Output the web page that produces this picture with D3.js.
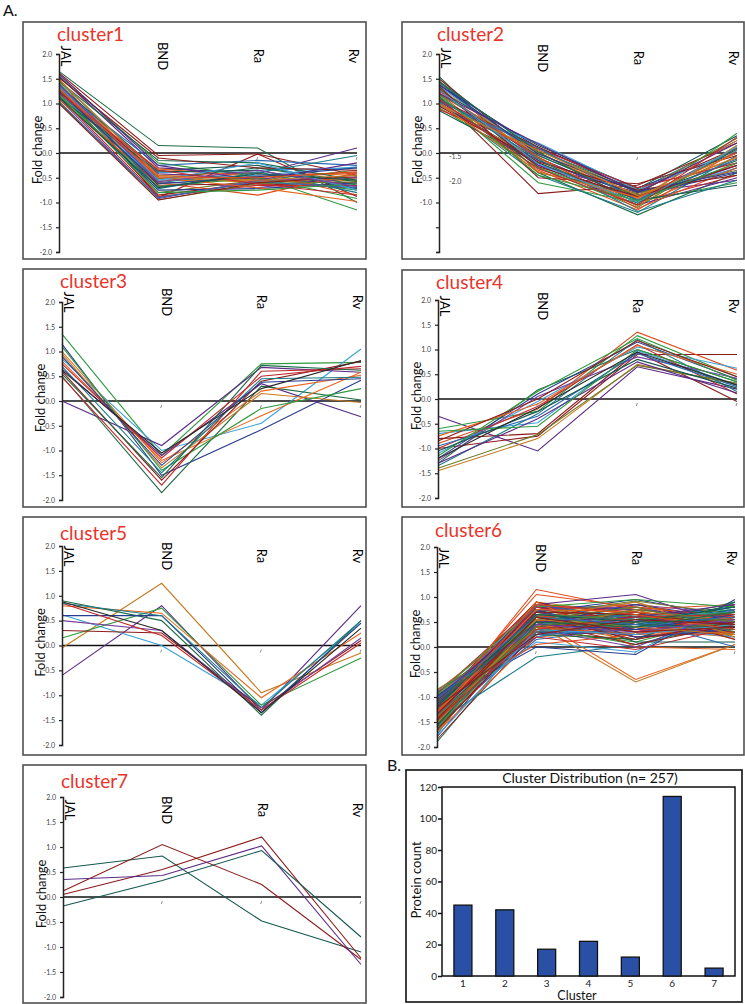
<!DOCTYPE html>
<html><head><meta charset="utf-8">
<script src="https://cdn.jsdelivr.net/npm/d3@7"></script>
<style>body{margin:0;background:#fff}svg{display:block}</style>
</head><body>
<script>
// ---------- DATA ----------
const categories = ["JAL","BND","Ra","Rv"];
const yTickValues = [2,1.5,1,0.5,0,-0.5,-1,-1.5,-2];
const clusterNames = ["cluster1","cluster2","cluster3","cluster4","cluster5","cluster6","cluster7"];

const cluster1 = [
[1.65,0.15,0.10,-1.00],[1.62,-0.05,-0.02,-0.45],[1.58,-0.20,-0.48,-1.15],[1.55,-0.30,-0.42,0.10],
[1.50,-0.90,-0.02,-0.88],[1.48,-0.55,-0.55,-0.60],[1.45,-0.40,-0.35,-0.30],[1.42,-0.62,-0.50,-0.75],
[1.40,-0.50,-0.60,-0.55],[1.38,-0.70,-0.45,-0.40],[1.36,-0.35,-0.25,-0.65],[1.35,-0.58,-0.70,-0.50],
[1.33,-0.45,-0.40,-0.85],[1.32,-0.80,-0.55,-0.35],[1.30,-0.25,-0.15,-0.25],[1.28,-0.65,-0.62,-0.70],
[1.27,-0.52,-0.30,-0.58],[1.25,-0.85,-0.60,-0.45],[1.24,-0.42,-0.52,-0.62],[1.22,-0.60,-0.38,-0.80],
[1.21,-0.32,-0.48,-0.42],[1.20,-0.75,-0.72,-0.60],[1.18,-0.55,-0.45,-0.28],[1.17,-0.68,-0.50,-0.92],
[1.15,-0.48,-0.58,-0.52],[1.14,-0.88,-0.65,-0.66],[1.12,-0.38,-0.35,-0.72],[1.10,-0.92,-0.55,-0.50],
[1.08,-0.60,-0.85,-0.40],[1.05,-0.95,-0.62,-0.58],[1.02,-0.90,-0.58,-0.70],[1.00,-0.95,-0.60,-0.48],
[1.45,-0.15,-0.20,-0.55],[1.52,-0.10,-0.30,-0.35],[1.60,-0.25,-0.55,-0.20],[1.40,-0.72,-0.40,-0.05],
[1.30,-0.50,-0.70,-0.98],[1.25,-0.62,-0.48,-0.30],[1.35,-0.55,-0.20,-0.75],[1.18,-0.80,-0.75,-0.62],
[1.48,-0.45,-0.55,-0.45],[1.22,-0.35,-0.62,-0.85],[1.12,-0.70,-0.42,-0.55],[1.38,-0.58,-0.35,-0.68],
[1.28,-0.48,-0.50,-0.38]
];
const cluster2 = [
[1.55,-0.40,-1.25,-0.40],[1.50,-0.10,-0.95,0.10],[1.45,-0.25,-0.80,-0.55],[1.42,0.05,-0.75,0.25],
[1.40,-0.15,-1.05,-0.20],[1.38,0.10,-0.70,0.00],[1.35,-0.05,-0.90,-0.30],[1.32,-0.30,-1.10,0.15],
[1.30,0.00,-0.85,-0.10],[1.28,-0.20,-1.00,-0.45],[1.25,0.15,-0.72,0.35],[1.22,-0.10,-0.95,-0.25],
[1.20,-0.35,-1.15,0.05],[1.18,0.05,-0.80,-0.35],[1.15,-0.82,-0.65,0.20],[1.12,-0.60,-1.00,0.40],
[1.10,-0.05,-0.88,-0.15],[1.08,0.12,-0.78,0.10],[1.05,-0.25,-1.05,-0.50],[1.03,-0.45,-1.20,-0.05],
[1.00,0.00,-0.92,0.25],[0.98,-0.15,-0.85,-0.40],[0.95,0.20,-0.75,0.05],[0.92,-0.30,-0.98,-0.60],
[0.90,-0.10,-1.08,0.15],[0.88,0.08,-0.70,-0.20],[0.86,-0.20,-0.95,-0.65],[1.35,-0.50,-0.62,-0.05],
[1.25,-0.08,-1.12,-0.30],[1.15,-0.40,-0.82,0.30],[1.05,0.10,-0.95,-0.12],[0.95,-0.18,-0.75,-0.45],
[1.45,0.02,-1.02,0.08],[1.30,-0.28,-0.88,-0.25],[1.20,0.18,-0.80,0.20],[1.10,-0.12,-1.18,-0.55],
[1.00,-0.38,-0.90,0.00],[1.38,-0.02,-0.78,-0.38],[1.28,-0.22,-1.00,0.12],[1.18,-0.45,-0.96,-0.20],
[0.98,0.05,-0.86,-0.08],[1.08,-0.32,-1.05,0.32]
];
const cluster3 = [
[1.35,-1.10,0.75,0.78],[0.85,-1.00,-0.45,1.05],[1.15,-1.50,-0.58,0.42],[0.00,-0.90,0.68,0.58],
[0.65,-1.10,0.35,-0.32],[0.50,-1.85,0.30,0.02],[0.48,-1.70,0.60,0.65],[1.00,-1.25,0.20,0.52],
[0.80,-1.20,-0.30,0.58],[0.95,-1.35,0.15,-0.03],[1.10,-1.40,-0.15,0.25],[0.60,-1.60,0.40,0.80],
[0.70,-1.45,0.45,0.48],[0.55,-1.55,0.72,0.62],[0.75,-1.15,0.50,0.70],[0.90,-1.30,0.38,0.45],
[0.62,-1.05,0.25,0.82]
];
const cluster4 = [
[-0.35,-1.05,0.65,0.20],[-1.00,-0.75,0.90,0.90],[-0.90,-0.20,1.35,0.58],[-0.60,-0.25,1.28,0.45],
[-0.80,-0.70,0.95,-0.05],[-1.45,-0.80,0.70,0.30],[-1.30,0.18,1.00,0.35],[-1.20,0.10,1.15,0.40],
[-1.10,-0.05,1.05,0.62],[-0.70,-0.48,0.98,0.28],[-1.35,-0.30,1.20,0.15],[-1.25,0.05,0.85,0.42],
[-1.00,-0.15,1.10,0.10],[-0.95,-0.35,0.92,0.25],[-1.15,0.15,1.22,0.38],[-1.40,-0.72,0.68,0.32],
[-0.75,-0.10,1.08,0.50],[-1.05,-0.25,0.80,0.22],[-0.85,0.00,1.18,0.45],[-1.30,-0.40,0.75,0.12],
[-0.65,-0.55,1.00,0.35],[-1.20,-0.18,0.95,0.28]
];
const cluster5 = [
[-0.05,1.25,-0.95,-0.15],[-0.60,0.80,-1.30,0.80],[0.62,0.00,-1.20,0.45],[0.15,0.75,-1.20,-0.25],
[0.30,0.25,-1.25,0.10],[0.80,0.65,-1.05,0.25],[0.90,0.50,-1.40,0.50],[0.60,0.60,-1.35,0.45],
[0.50,0.30,-1.30,0.15],[0.85,0.20,-1.30,0.05],[0.85,0.60,-1.25,0.50],[0.88,0.30,-1.35,0.35]
];
const cluster6 = [
[-1.90,0.45,0.60,0.50],[-1.85,0.30,0.40,0.70],[-1.80,0.60,0.20,0.40],[-1.75,0.85,0.75,0.55],
[-1.70,0.20,0.35,0.30],[-1.68,0.50,0.55,0.80],[-1.65,0.70,0.45,0.25],[-1.62,0.35,0.10,0.60],
[-1.60,0.90,0.65,0.45],[-1.58,0.25,0.50,0.75],[-1.55,0.55,0.30,0.35],[-1.52,0.75,0.85,0.65],
[-1.50,0.40,0.25,0.50],[-1.48,0.65,0.60,0.20],[-1.46,0.15,0.40,0.55],[-1.45,0.80,0.50,0.70],
[-1.43,0.45,0.70,0.40],[-1.42,0.30,0.15,0.85],[-1.40,0.60,0.45,0.30],[-1.38,0.50,0.80,0.60],
[-1.36,0.85,0.35,0.45],[-1.35,0.20,0.55,0.25],[-1.34,0.70,0.65,0.75],[-1.32,0.40,0.05,0.50],
[-1.31,0.55,0.90,0.35],[-1.30,0.90,0.40,0.60],[-1.29,0.35,0.60,0.80],[-1.28,0.65,0.20,0.40],
[-1.27,0.45,0.75,0.15],[-1.26,0.75,0.50,0.65],[-1.25,0.25,0.30,0.55],[-1.24,0.60,0.85,0.45],
[-1.23,0.50,0.45,0.90],[-1.22,0.80,0.60,0.30],[-1.21,0.30,0.25,0.70],[-1.20,0.55,0.70,0.50],
[-1.19,0.40,0.35,0.20],[-1.18,0.70,0.95,0.60],[-1.17,0.20,0.50,0.40],[-1.16,0.85,0.55,0.75],
[-1.15,0.45,0.15,0.55],[-1.14,0.60,0.65,0.35],[-1.13,0.35,0.40,0.85],[-1.12,0.75,0.80,0.45],
[-1.11,0.50,0.30,0.25],[-1.10,0.65,0.55,0.65],[-1.09,0.25,0.70,0.50],[-1.08,0.90,0.45,0.40],
[-1.07,0.40,0.60,0.70],[-1.06,0.55,0.20,0.30],[-1.05,0.80,0.75,0.60],[-1.04,0.30,0.50,0.80],
[-1.03,0.60,0.35,0.45],[-1.02,0.45,0.85,0.55],[-1.00,0.70,0.40,0.20],[-0.98,0.35,0.60,0.65],
[-0.96,0.55,0.25,0.50],[-0.94,0.85,0.70,0.40],[-0.92,0.50,0.45,0.75],[-0.90,0.40,0.55,0.35],
[-0.88,0.65,0.30,0.60],[-0.85,0.30,0.65,0.45],
[-1.30,1.15,0.75,0.85],[-1.20,1.05,0.80,0.60],[-1.45,0.55,-0.65,0.05],[-1.25,0.45,-0.70,0.05],
[-1.50,-0.20,0.05,0.55],[-1.60,0.85,1.05,0.40],[-1.40,0.90,0.00,-0.05],[-1.10,0.00,-0.15,0.95],
[-1.35,0.10,-0.10,0.90],[-0.95,0.80,0.95,0.80],[-1.70,0.60,0.90,0.20],[-1.20,0.20,-0.05,0.40],
[-1.55,0.75,0.10,0.10],[-1.15,0.35,0.00,0.75],[-1.05,0.05,0.25,0.30],[-1.45,0.65,0.92,0.65],
[-1.25,0.85,0.55,0.00],[-1.35,0.50,0.05,0.45],[-1.00,0.25,0.15,0.90],[-1.65,0.40,0.70,0.15],
[-1.28,0.70,0.35,0.50],[-1.18,0.55,0.65,0.55],[-1.42,0.30,0.50,0.60],[-1.08,0.75,0.20,0.35],
[-1.33,0.45,0.60,0.70],[-1.22,0.60,0.40,0.45],[-1.12,0.35,0.75,0.25],[-1.38,0.80,0.30,0.65],
[-1.48,0.50,0.45,0.40],[-1.02,0.65,0.55,0.50],[-1.26,0.40,0.25,0.60],[-1.16,0.55,0.80,0.30],
[-1.36,0.25,0.35,0.75],[-1.06,0.70,0.65,0.45],[-1.56,0.45,0.50,0.55],[-1.44,0.60,0.15,0.50],
[-1.14,0.50,0.60,0.85],[-1.24,0.30,0.45,0.35],[-1.32,0.75,0.70,0.55],[-0.98,0.45,0.35,0.65],
[-1.78,0.35,0.25,0.45],[-1.62,0.65,0.55,0.70],[-1.52,0.55,0.40,0.25],[-1.46,0.35,0.60,0.65],
[-1.19,0.65,0.50,0.80],[-1.09,0.45,0.30,0.55],[-1.29,0.85,0.65,0.35],[-1.39,0.40,0.75,0.50],
[-1.04,0.60,0.45,0.60],[-1.21,0.25,0.55,0.45],[-1.11,0.50,0.40,0.70],[-1.34,0.60,0.30,0.40]
];
const cluster7 = [
[0.58,0.82,-0.48,-1.10],[0.12,1.05,0.25,-1.25],[0.05,0.55,1.20,-1.22],[0.35,0.43,1.02,-1.35],[-0.18,0.33,0.93,-0.80]
];
const clusterData = [cluster1,cluster2,cluster3,cluster4,cluster5,cluster6,cluster7];

const barCategories = ["1","2","3","4","5","6","7"];
const barCounts = [45,42,17,22,12,114,5];
const barTickValues = [0,20,40,60,80,100,120];
const barTitle = "Cluster Distribution (n= 257)";

// ---------- STYLE / LAYOUT ----------
const W = 745, H = 1004;
const FONT = "Lato, 'Open Sans', sans-serif";
const C = {dg:"#1e6b45",dr:"#8c1c1c",pu:"#5b2a86",te:"#1c7a86",or:"#e8641e",nv:"#283d8f",lb:"#3aa0d8",
  gr:"#2f9a3f",bo:"#c47a20",rd:"#c0282d",dt:"#15584f",vi:"#7b3f9e",ro:"#e0481a",ol:"#6b7a2a",bl:"#2b6cb0",dk:"#2a2a2a"};
const cycle = ["dg","dr","pu","te","or","nv","lb","gr","bo","rd","dt","vi","ro","ol","bl","dr"];
const lineColorKeys = [
  null, null,
  ["gr","lb","nv","pu","pu","dg","rd","or","or","bo","gr","dr","te","dg","rd","nv","dk"],
  ["pu","dr","ro","gr","dr","bo","dg","nv","lb","lb","te","vi","rd","bl","gr","ol","or","dt","dr","pu","gr","dk"],
  ["bo","pu","lb","gr","dr","or","dg","nv","vi","rd","te","dk"],
  null,
  ["dt","dr","dr","pu","dt"]
];
const specialColors = [
  {0:"dg",2:"gr",3:"pu",4:"dr",5:"bo"},
  {14:"dr",15:"gr",27:"dr"},
  null, null, null,
  {62:"ro",63:"ro",64:"or",65:"bo",66:"te",67:"pu"},
  null
];
function lineColor(pi,i){
  const keys = lineColorKeys[pi];
  if (keys) return C[keys[i%keys.length]];
  const sp = specialColors[pi];
  if (sp && sp[i]) return C[sp[i]];
  return C[cycle[i%cycle.length]];
}
const panels = [
 {box:[23,22,366,259],  ax:59,  rv:357, yTop:54,  yBot:252, lab:41,  catY:56},
 {box:[402,22,744,259], ax:439, rv:737, yTop:54,  yBot:252, lab:41,  catY:58},
 {box:[23,269,366,507], ax:62,  rv:361, yTop:302, yBot:500, lab:288, catY:302},
 {box:[402,270,744,507],ax:438, rv:737, yTop:300, yBot:498, lab:289, catY:306},
 {box:[23,517,366,755], ax:62,  rv:361, yTop:546, yBot:745, lab:540, catY:556},
 {box:[402,517,744,755],ax:437, rv:735, yTop:547, yBot:747, lab:537, catY:558},
 {box:[23,765,366,1003],ax:63,  rv:361, yTop:797, yBot:997, lab:788, catY:810}
];
const catLabelDx = [2,0,-4,-8];

const svg = d3.select("body").append("svg").attr("width",W).attr("height",H)
  .style("font-family",FONT);

svg.append("text").attr("x",3).attr("y",16).attr("font-size",16).attr("fill","#111").text("A.");

panels.forEach((p,pi)=>{
  const g = svg.append("g");
  const [x0,y0,x1,y1] = p.box;
  g.append("rect").attr("x",x0).attr("y",y0).attr("width",x1-x0).attr("height",y1-y0)
    .attr("fill","none").attr("stroke","#505050").attr("stroke-width",1.6);

  const x = d3.scalePoint().domain(categories).range([p.ax,p.rv]);
  const y = d3.scaleLinear().domain([-2,2]).range([p.yBot,p.yTop]);

  g.append("line").attr("x1",p.ax).attr("x2",p.rv).attr("y1",y(0)).attr("y2",y(0))
    .attr("stroke","#111").attr("stroke-width",1.5);
  g.selectAll(".xt").data(categories.slice(1)).join("line")
    .attr("x1",d=>x(d)).attr("x2",d=>x(d)-1).attr("y1",y(0)+4).attr("y2",y(0)+7)
    .attr("stroke","#777").attr("stroke-width",0.8);

  const line = d3.line().x((d,i)=>x(categories[i])).y(d=>y(d));
  g.selectAll(".ln").data(clusterData[pi]).join("path")
    .attr("d",line).attr("fill","none")
    .attr("stroke",(d,i)=>lineColor(pi,i))
    .attr("stroke-width",1.1);

  const special = pi===1;
  const axis = d3.axisLeft(y).tickValues(yTickValues).tickSize(3)
    .tickFormat(d => (special && d < -1) ? "" : d.toFixed(1));
  const ag = g.append("g").attr("transform",`translate(${p.ax},0)`).call(axis);
  ag.select(".domain").attr("stroke","#222").attr("stroke-width",1.5);
  ag.selectAll(".tick line").attr("stroke","#222").attr("stroke-width",1.2);
  ag.selectAll("text").attr("font-size",7).attr("fill","#444").attr("font-family",FONT).attr("dx",-1);
  if (special) {
    g.selectAll(".stray").data(yTickValues.filter(v=>v<-1)).join("text")
      .attr("x",p.ax+10).attr("y",d=>y(d+1.5)+6).attr("font-size",7).attr("fill","#444")
      .text(d=>d.toFixed(1));
  }

  g.append("text").attr("transform",`translate(${p.ax-17},${y(0)-3}) rotate(-90)`)
    .attr("text-anchor","middle").attr("font-size",13).attr("fill","#111").text("Fold change");

  g.append("text").attr("x",p.ax-2).attr("y",p.lab).attr("font-size",19).attr("fill","#e8342b")
    .text(clusterNames[pi]);

  g.selectAll(".cat").data(categories).join("text")
    .attr("transform",(d,i)=>`translate(${x(d)+catLabelDx[i]},${p.catY}) rotate(90)`)
    .attr("text-anchor","middle").attr("font-size",13).attr("fill","#000").text(d=>d);
});

// ---------- Panel B ----------
svg.append("text").attr("x",387).attr("y",771).attr("font-size",16).attr("fill","#111").text("B.");
svg.append("rect").attr("x",406).attr("y",770).attr("width",336).attr("height",232)
  .attr("fill","none").attr("stroke","#111").attr("stroke-width",1.6);
const bx = d3.scaleBand().domain(barCategories).range([442,735]).paddingInner(0.57).paddingOuter(0.285);
const by = d3.scaleLinear().domain([0,120]).range([976,787]);
svg.append("rect").attr("x",442).attr("y",787).attr("width",293).attr("height",189)
  .attr("fill","none").attr("stroke","#111").attr("stroke-width",1.5);
svg.selectAll(".bar").data(barCounts).join("rect")
  .attr("x",(d,i)=>bx(barCategories[i])).attr("width",bx.bandwidth())
  .attr("y",d=>by(d)).attr("height",d=>by(0)-by(d))
  .attr("fill","#2a50a6").attr("stroke","#111").attr("stroke-width",1.3);
const bya = svg.append("g").attr("transform","translate(442,0)")
  .call(d3.axisLeft(by).tickValues(barTickValues).tickSize(4).tickSizeOuter(0).tickPadding(1));
bya.select(".domain").remove();
bya.selectAll(".tick line").attr("stroke","#111").attr("stroke-width",1.5);
bya.selectAll("text").attr("font-size",10).attr("fill","#222").attr("font-family",FONT);
svg.selectAll(".bxl").data(barCategories).join("text")
  .attr("x",d=>bx(d)+bx.bandwidth()/2).attr("y",987).attr("text-anchor","middle")
  .attr("font-size",10).attr("fill","#222").text(d=>d);
svg.append("text").attr("x",577).attr("y",1000).attr("text-anchor","middle")
  .attr("font-size",12.5).attr("fill","#111").text("Cluster");
svg.append("text").attr("transform","translate(421,880) rotate(-90)").attr("text-anchor","middle")
  .attr("font-size",13).attr("fill","#111").text("Protein count");
svg.append("text").attr("x",590).attr("y",783).attr("text-anchor","middle")
  .attr("font-size",14).attr("fill","#111").text(barTitle);
</script>
</body></html>
